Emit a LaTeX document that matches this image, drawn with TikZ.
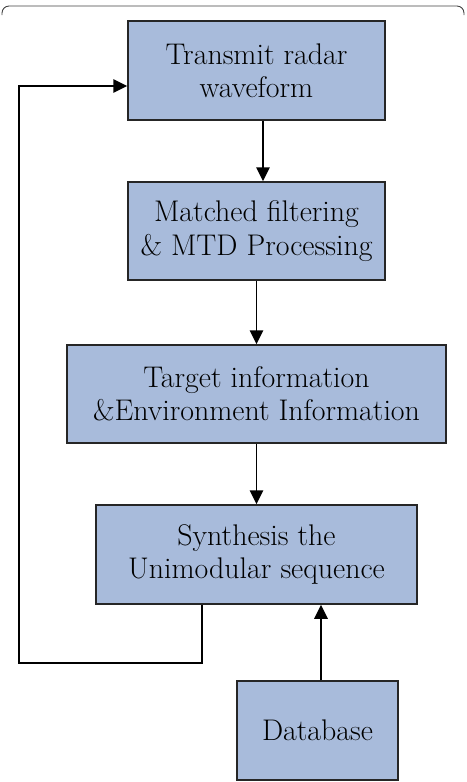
\documentclass[tikz,border=0pt]{standalone}
\usepackage{amsmath}
\usepackage{xcolor}
\usepackage{tikz}
\usetikzlibrary{shapes.geometric, arrows.meta}
\definecolor{boxblue}{RGB}{168,187,219}
\tikzstyle{block} = [rectangle, draw=black!85, line width=0.85pt, fill=boxblue, align=center, inner sep=0pt, font=\fontsize{17}{19}\selectfont]
\tikzstyle{arrow} = [line width=0.9pt,-{Triangle[length=0.28cm,width=0.27cm]}]

\begin{document}
\begin{tikzpicture}
	\useasboundingbox (0,0) rectangle (9.32,-15.64);
	
	% Frame:
	% Only the upper edge of the page frame shows:
	\draw [black!75, line width=0.5pt, rounded corners=4pt] (0.04,-0.3) -- (0.04,-0.12) -- (9.28,-0.12) -- (9.28,-0.3);
	
	% Blocks:
	% Are placed at coordinates with their own sizes:
	\node [block, minimum width=5.14cm, minimum height=1.98cm] (transmit) at (5.13,-1.41) {Transmit radar\\waveform};
	\node [block, minimum width=5.14cm, minimum height=1.96cm] (matched) at (5.13,-4.62) {Matched filtering\\\& MTD Processing};
	\node [block, minimum width=7.58cm, minimum height=1.96cm] (target) at (5.13,-7.88) {Target information\\\&Environment Information};
	\node [block, minimum width=6.42cm, minimum height=1.98cm] (synth) at (5.13,-11.09) {Synthesis the\\Unimodular sequence};
	\node [block, minimum width=3.22cm, minimum height=1.98cm] (database) at (6.35,-14.61) {Database};
	
	% Arrows:
	\draw [arrow] ([xshift=0.13cm]transmit.south) -- ([xshift=0.13cm]matched.north);
	\draw [arrow] (matched) -- (target);
	\draw [arrow] (target) -- (synth);
	\draw [arrow] ([xshift=0.07cm]database.north) -- ([xshift=0.07cm]database.north |- synth.south);
	
	% Feedback loop back to the transmitter:
	\coordinate (loop) at (0.38,-13.26);
	\draw [arrow] ([xshift=-1.09cm]synth.south) |- (loop) |- ([yshift=-0.31cm]transmit.west);
	
\end{tikzpicture}
\end{document}
